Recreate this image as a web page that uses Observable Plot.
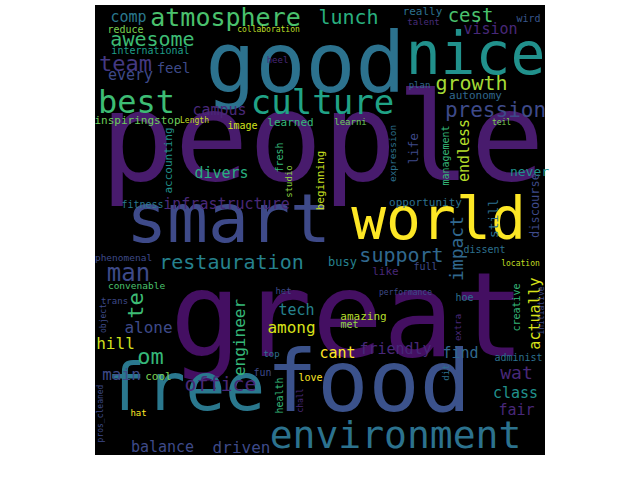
<!DOCTYPE html>
<html>
<head>
<meta charset="utf-8">
<script src="https://cdn.jsdelivr.net/npm/d3@7"></script>
<script src="https://cdn.jsdelivr.net/npm/@observablehq/plot@0.6"></script>
<style>body{margin:0;background:#fff}</style>
</head>
<body>
<div id="vis"></div>
<script>
// word cloud layout (image pixel coords)
const words = ["people","great","good","nice","food","smart","world","free","environment","culture","best","atmosphere","lunch","cest","really","talent","wird","vision","comp","awesome","reduce","collaboration","international","team","feel","every","campus","inspiringstop","Length","image","heel","learned","divers","fresh","studio","accounting","beginning","fitness","infrastructure","growth","plan","autonomy","pression","learni","teil","expression","life","endless","management","never","opportunity","still","discourse","impact","support","busy","full","like","dissent","location","performance","hoe","actually","creative","initiative","extra","amazing","met","cant","friendly","find","administ","dit","wat","class","fair","phenomenal","restauration","man","convenable","het","te","trans","object","tech","alone","among","engineer","hill","om","main","cool","office","top","fun","love","health","chall","hat","pros_cleaned","balance","driven"]
const xs = [322,347,305,475,368,228,438,185,395,322,136,225,348,470,422,423,528,490,128,152,125,268,150,125,173,130,219,137,194,242,277,290,221,279,289,168,320,142,226,471,419,475,495,350,501,392,413,464,445,529,425,493,535,457,401,342,425,385,484,520,405,464,535,516,541,458,363,349,337,395,460,518,446,516,515,516,123,231,128,136,283,135,114,103,296,148,291,239,115,150,121,158,220,271,262,310,279,300,138,100,162,241]
const ys = [140,318,65,55,383,220,220,388,435,103,102,17,17,15,11,22,18,29,17,39,29,29,50,63,68,75,110,120,120,125,60,122,173,157,181,160,180,204,204,83,85,95,110,122,122,153,148,150,155,171,202,218,205,248,255,262,266,271,249,263,292,297,313,307,310,327,316,324,353,349,353,357,372,373,393,410,257,262,273,285,291,305,301,318,310,327,327,337,343,356,374,376,384,354,372,377,395,400,413,413,447,447]
const sizes = [123,118,83,58,85,68,58,66,38,34,32,25,20,19,11,9,10,15,15,20,10,8,10,22,14,15,15,11,8,10,9,11,15,10,9,11,11,10,15,20,9,11,21,9,8,9.5,13,15,10,13,11,13,12,18,20,12,10,11,10,8,8,10,15,10,8,9,11,10,15,15,15,10,9,18,15,15,9.5,20,24,9.5,9,22,9,8,15,16,16,16,16,22,16,11,20,9,10,10,10,8,9,8,15,16]
const rots = ["people","great"].length && words.map(w => ["fresh","studio","accounting","beginning","expression","life","endless","management","still","discourse","impact","actually","creative","initiative","extra","dit","te","object","engineer","health","chall","pros_cleaned"].includes(w) ? -90 : 0)
const colors = ["#481b6d","#440f62","#2c728e","#21918c","#3b528b","#3e4a89","#fde725","#2a788e","#2c728e","#20a386","#3dbc74","#4ac16d","#29af7f","#4ac16d","#2d708e","#472c7a","#39568c","#482878","#2a788e","#3dbc74","#7ad151","#bddf26","#1f9e89","#443983","#3e4a89","#3e4a89","#482878","#6ccd5a","#c2df23","#d0e11c","#482878","#35b779","#29af7f","#35b779","#90d743","#21918c","#c8e020","#2a788e","#482878","#a5db36","#31688e","#31688e","#3e4a89","#6ccd5a","#7ad151","#2d708e","#3e4a89","#b5de2b","#35b779","#21918c","#2d708e","#2d708e","#3e4a89","#31688e","#31688e","#26828e","#3e4a89","#482878","#2d708e","#c2df23","#3e4a89","#2d708e","#d8e219","#35b779","#3e4a89","#482878","#b5de2b","#90d743","#fde725","#482878","#31688e","#2d708e","#2d708e","#482878","#21918c","#482878","#3e4a89","#26828e","#3e4a89","#4ac16d","#3e4a89","#3dbc74","#3e4a89","#3e4a89","#26828e","#3e4a89","#d8e219","#35b779","#d0e11c","#35b779","#3e4a89","#7ad151","#482878","#2d708e","#3e4a89","#fde725","#35b779","#482878","#fde725","#3e4a89","#3e4a89","#3e4a89"]
// black panel behind the cloud
const panelX = [95, 545]
const panelY = [5, 455]

const data = words.map((w, i) => ({word: w, x: xs[i], y: ys[i], size: sizes[i], rot: rots[i], color: colors[i]}))

let chart = Plot.plot({
  width: 640,
  height: 480,
  margin: 0,
  x: {domain: [0, 640], axis: null},
  y: {domain: [0, 480], range: [0, 480], axis: null},
  color: {type: 'identity'},
  marks: [
    Plot.rect([{}], {x1: panelX[0], x2: panelX[1], y1: panelY[0], y2: panelY[1], fill: 'black'}),
    Plot.text(data, {
      x: 'x', y: 'y', text: 'word',
      fontSize: d => d.size,
      rotate: 'rot',
      fill: 'color',
      fontFamily: 'DejaVu Sans Mono',
      textAnchor: 'middle',
      lineAnchor: 'middle'
    })
  ],
  style: {background: 'white'}
})
d3.select('#vis').append(() => chart)
</script>
</body>
</html>
